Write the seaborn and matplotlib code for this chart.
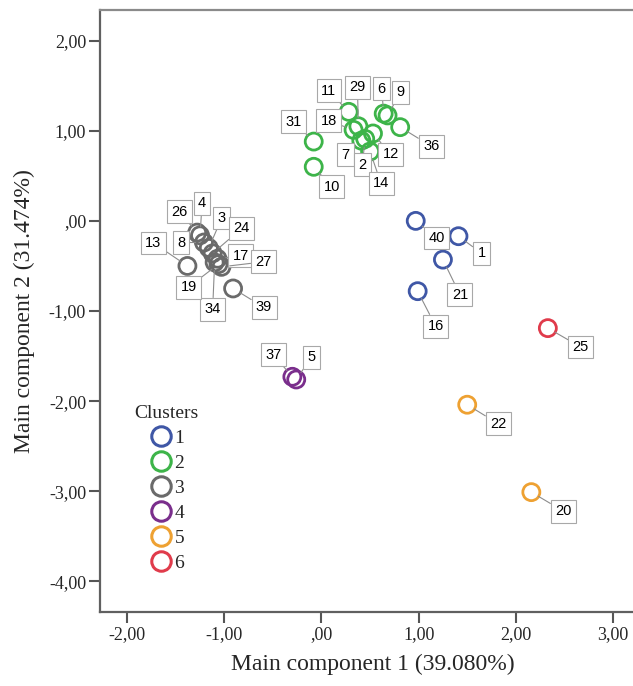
import matplotlib
matplotlib.use('Agg')
import matplotlib.pyplot as plt
from matplotlib.lines import Line2D
import seaborn as sns
import pandas as pd

# case numbers, component scores and cluster membership
case_ids = [40, 1, 21, 16,
            31, 10, 11, 29, 18, 6, 9, 36, 7, 2, 12, 14,
            26, 4, 8, 3, 24, 17, 34, 27, 19, 13, 39,
            37, 5,
            22, 20,
            25]
pc1 = [0.97, 1.41, 1.25, 0.99,
       -0.08, -0.08, 0.28, 0.38, 0.33, 0.64, 0.68, 0.81, 0.41, 0.45, 0.53, 0.50,
       -1.28, -1.25, -1.21, -1.16, -1.12, -1.07, -1.10, -1.03, -1.06, -1.38, -0.91,
       -0.30, -0.26,
       1.50, 2.16,
       2.33]
pc2 = [0.00, -0.17, -0.43, -0.78,
       0.88, 0.60, 1.21, 1.05, 1.01, 1.19, 1.17, 1.04, 0.89, 0.91, 0.97, 0.77,
       -0.13, -0.16, -0.24, -0.30, -0.36, -0.42, -0.46, -0.51, -0.48, -0.50, -0.75,
       -1.73, -1.76,
       -2.04, -3.01,
       -1.19]
cluster = [1] * 4 + [2] * 12 + [3] * 11 + [4] * 2 + [5] * 2 + [6] * 1

cluster_names = ['1', '2', '3', '4', '5', '6']
cluster_colors = ['#3f57a6', '#3db449', '#6a6a6a', '#7a2e8c', '#eea132', '#e03b4b']

x_ticks = [-2, -1, 0, 1, 2, 3]
x_tick_labels = ['-2,00', '-1,00', ',00', '1,00', '2,00', '3,00']
y_ticks = [-4, -3, -2, -1, 0, 1, 2]
y_tick_labels = ['-4,00', '-3,00', '-2,00', '-1,00', ',00', '1,00', '2,00']

# where each case label box sits relative to its point (pixels, right / down)
label_offsets = {
    40: (21, 17), 1: (23, 17), 21: (17, 35), 16: (18, 35),
    31: (-20, -20), 10: (18, 20), 11: (-20, -21), 29: (-1, -39), 18: (-25, -9),
    6: (-2, -25), 9: (13, -23), 36: (31, 19), 7: (-16, 14), 2: (-3, 26),
    12: (18, 21), 14: (11, 32),
    26: (-18, -21), 4: (2, -32), 8: (-23, 0), 3: (13, -30), 24: (29, -25),
    17: (23, -3), 34: (-2, 47), 27: (42, -5), 19: (-30, 23), 13: (-34, -23),
    39: (31, 19),
    37: (-19, -22), 5: (15, -22),
    22: (31, 19), 20: (32, 19), 25: (33, 19),
}

df = pd.DataFrame({'id': case_ids, 'pc1': pc1, 'pc2': pc2,
                   'Clusters': [str(c) for c in cluster]})

sns.set_style('white')
plt.rcParams['font.family'] = ['Liberation Serif', 'DejaVu Serif']

fig = plt.figure(figsize=(6.33, 6.86), dpi=100)
ax = fig.add_axes([100 / 633, 74 / 686, 545 / 633, 602 / 686])

sns.scatterplot(data=df, x='pc1', y='pc2', hue='Clusters',
                hue_order=cluster_names, palette=cluster_colors,
                s=150, linewidth=2.0, legend=False, ax=ax, zorder=3)

# hollow rings like the SPSS output
coll = ax.collections[0]
fc = coll.get_facecolors()
coll.set_edgecolors(fc)
coll.set_facecolors('none')

for i, cid in enumerate(case_ids):
    dx, dy = label_offsets[cid]
    ax.annotate(str(cid), xy=(pc1[i], pc2[i]), xytext=(dx, -dy),
                textcoords='offset pixels', ha='center', va='center',
                fontsize=10.5, family=['Liberation Sans', 'DejaVu Sans'],
                color='black', zorder=4,
                bbox=dict(boxstyle='square,pad=0.3', fc='white',
                          ec='#a8a8a8', lw=0.8),
                arrowprops=dict(arrowstyle='-', color='#8c8c8c', lw=0.8,
                                shrinkA=0, shrinkB=6))

ax.set_xlim(-2.28, 3.33)
ax.set_ylim(-4.34, 2.34)
ax.set_xticks(x_ticks)
ax.set_xticklabels(x_tick_labels)
ax.set_yticks(y_ticks)
ax.set_yticklabels(y_tick_labels)
ax.tick_params(axis='both', direction='out', length=8, width=1.5,
               color='#555555', labelsize=13, pad=2,
               bottom=True, left=True)

for side in ['left', 'bottom']:
    ax.spines[side].set_color('#606060')
    ax.spines[side].set_linewidth(1.6)
ax.spines['top'].set_color('#8a8a8a')
ax.spines['top'].set_linewidth(1.6)
ax.spines['right'].set_visible(False)

ax.set_xlabel('Main component 1 (39.080%)', fontsize=17, labelpad=8)
ax.set_ylabel('Main component 2 (31.474%)', fontsize=17, labelpad=10)

handles = [Line2D([], [], ls='', marker='o', ms=14, mfc='none', mec=c, mew=2.2)
           for c in cluster_colors]
leg = ax.legend(handles, cluster_names, title='Clusters', loc='upper left',
                bbox_to_anchor=(0.045, 0.36), frameon=False, fontsize=14,
                title_fontsize=14, handletextpad=0.05, labelspacing=0.38,
                handlelength=1.3, borderpad=0)

fig.savefig('out.png', dpi=100)
